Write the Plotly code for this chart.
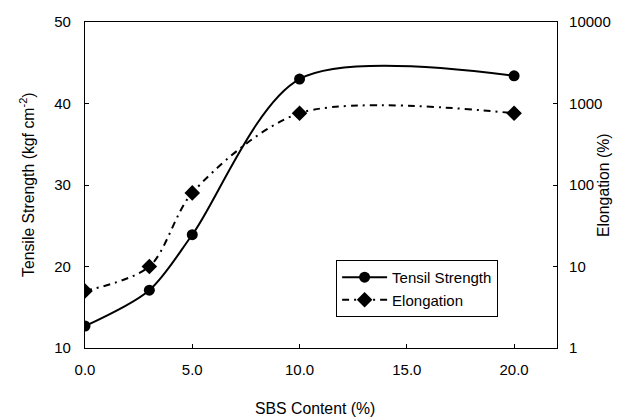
import plotly.graph_objects as go

sbs = [0, 3, 5, 10, 20]
tensile = [12.7, 17.1, 23.9, 43.0, 43.4]
elongation = [5.0, 10.0, 80.0, 760.0, 760.0]
x_ticks = [0, 5, 10, 15, 20]
x_ticktext = ["0.0", "5.0", "10.0", "15.0", "20.0"]
y2_ticks = [1, 10, 100, 1000, 10000]
y2_ticktext = ["1", "10", "100", "1000", "10000"]

FONT = "Liberation Sans, Arial, sans-serif"
FS = 15
TFS = 15.8

fig = go.Figure()
fig.add_trace(go.Scatter(
    x=sbs, y=tensile, name="Tensil Strength", mode="lines+markers",
    line=dict(color="black", width=2, shape="spline", smoothing=0.85),
    marker=dict(symbol="circle", size=11, color="black"),
))
fig.add_trace(go.Scatter(
    x=sbs, y=elongation, name="Elongation", mode="lines+markers", yaxis="y2",
    line=dict(color="black", width=2, shape="spline", smoothing=0.85,
              dash="7px,5px,2px,5px"),
    marker=dict(symbol="diamond", size=12, color="black"),
))

axis_common = dict(showline=True, linecolor="black", linewidth=1.2, ticks="inside",
                   ticklen=4, tickcolor="black", showgrid=False, zeroline=False,
                   tickfont=dict(family=FONT, size=FS, color="black"))

fig.update_layout(
    width=630, height=418,
    margin=dict(l=85, r=73, t=22, b=70),
    paper_bgcolor="white", plot_bgcolor="white",
    font=dict(family=FONT, size=FS, color="black"),
    xaxis=dict(range=[0, 22], tickvals=x_ticks, ticktext=x_ticktext, mirror=True,
               ticklabelstandoff=8, **axis_common),
    yaxis=dict(range=[10, 50], dtick=10, ticklabelstandoff=10, **axis_common),
    yaxis2=dict(type="log", range=[0, 4], overlaying="y", side="right",
                tickvals=y2_ticks, ticktext=y2_ticktext, ticklabelstandoff=8,
                **axis_common),
    showlegend=True,
    legend=dict(x=0.532, y=0.27, xanchor="left", yanchor="top",
                bordercolor="black", borderwidth=1, bgcolor="white",
                font=dict(family=FONT, size=FS), itemwidth=45,
                tracegroupgap=0),
    annotations=[
        dict(text="Tensile Strength (kgf cm<sup>-2</sup>)", textangle=-90,
             xref="paper", yref="paper", x=(27 - 85) / 472, y=0.5,
             xanchor="center", yanchor="middle", showarrow=False,
             font=dict(family=FONT, size=TFS)),
        dict(text="Elongation (%)", textangle=-90,
             xref="paper", yref="paper", x=(603 - 85) / 472, y=0.5,
             xanchor="center", yanchor="middle", showarrow=False,
             font=dict(family=FONT, size=TFS)),
        dict(text="SBS Content (%)", xref="paper", yref="paper",
             x=(315 - 85) / 472, y=-(408 - 348) / 326,
             xanchor="center", yanchor="middle", showarrow=False,
             font=dict(family=FONT, size=TFS)),
    ],
)

fig.write_html("out.html")
